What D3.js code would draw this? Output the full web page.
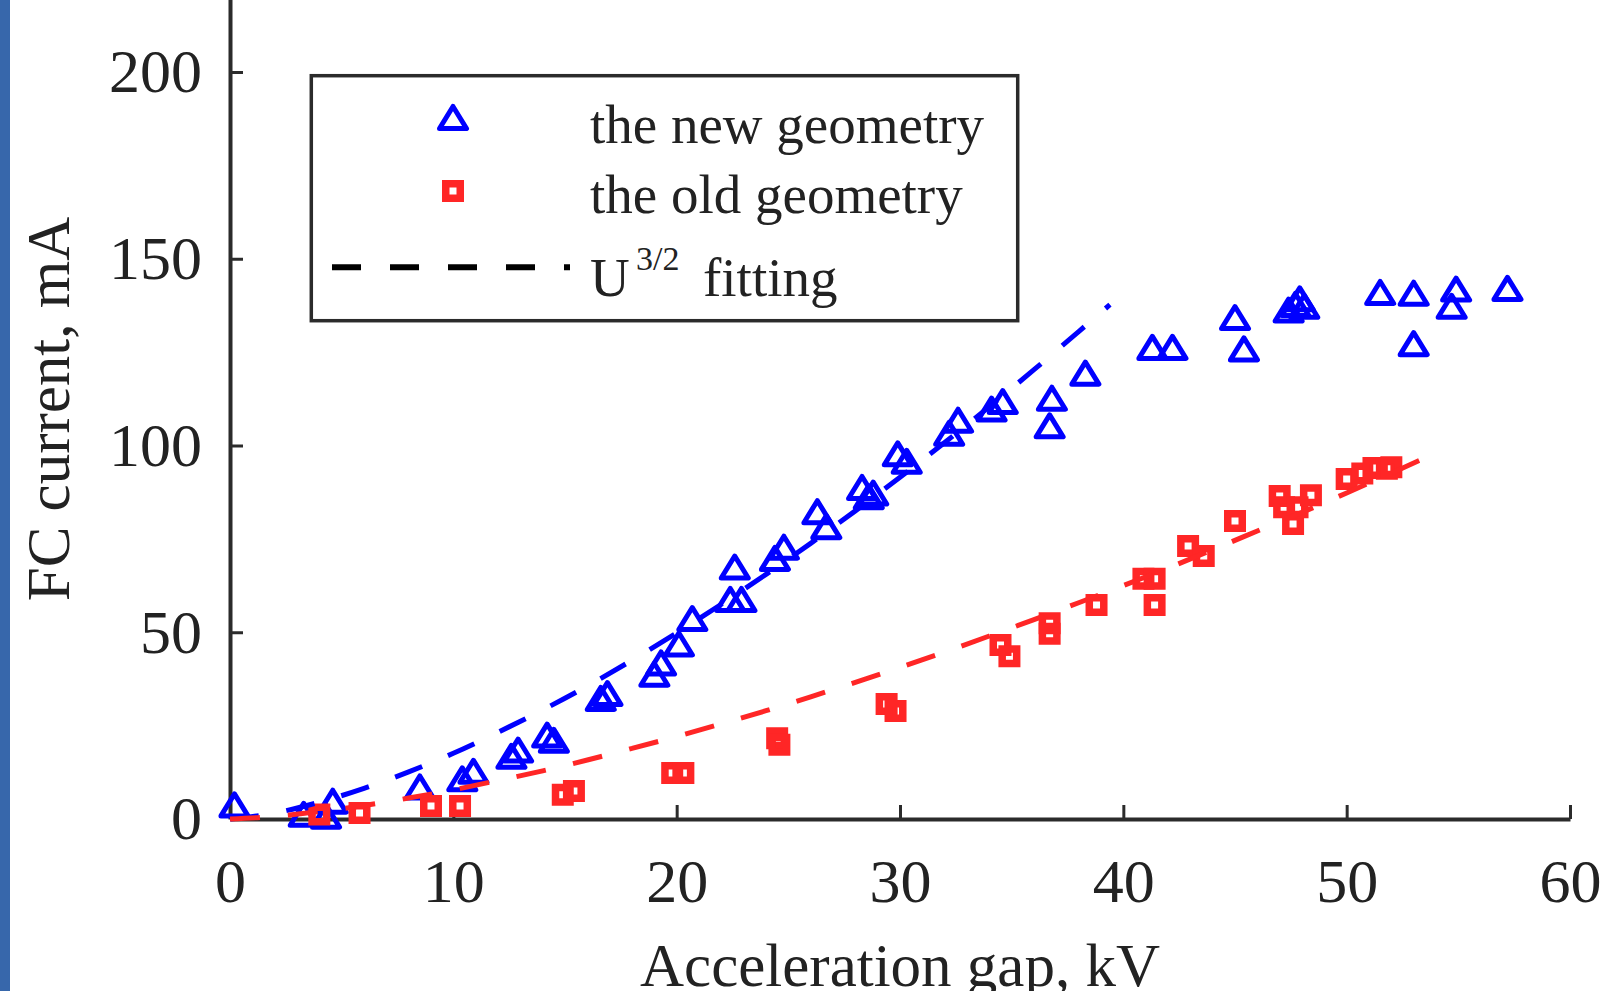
<!DOCTYPE html>
<html>
<head>
<meta charset="utf-8">
<script src="https://cdn.jsdelivr.net/npm/d3@7"></script>
<style>
    body { margin: 0; background: #fff; }
    svg text { font-family: "Liberation Serif", "Times New Roman", serif; fill: #222; }
    .axis path, .axis line { stroke: #2b2b2b; }
</style>
</head>
<body>
<div id="chart"></div>
<script>
// tick values
var xTicks = [0, 10, 20, 30, 40, 50, 60];
var yTicks = [0, 50, 100, 150, 200];

// the new geometry (kV, mA)
var newU = [0.2, 3.3, 4.3, 4.6, 8.5, 10.4, 10.9, 12.6, 12.9, 14.2, 14.5, 16.6, 16.9, 19.0, 19.3, 20.1, 20.7,
    22.4, 22.9, 22.6, 24.4, 24.8, 26.3, 26.7, 28.3, 28.6, 28.8, 29.9, 30.3, 32.2, 32.6, 34.1, 34.6, 36.7,
    36.8, 38.3, 41.3, 42.2, 45.0, 45.4, 47.4, 47.7, 47.9, 48.1, 51.5, 53.0, 53.0, 54.7, 54.9, 57.2];
var newI = [3.5, 1.0, 0.5, 4.5, 8.3, 10.5, 12.5, 16.5, 18.2, 22.2, 20.8, 32.0, 33.3, 38.5, 41.5, 46.6, 53.4,
    58.5, 58.5, 67.2, 69.5, 72.5, 82.0, 78.0, 88.5, 86.0, 87.0, 97.5, 95.5, 103.0, 106.5, 109.5, 111.5, 105.0,
    112.4, 119.1, 126.0, 126.0, 134.0, 125.6, 136.0, 137.5, 139.0, 137.0, 140.7, 140.5, 127.0, 137.0, 141.6, 141.8];

// the old geometry (kV, mA)
var oldU = [4.0, 5.8, 9.0, 10.3, 14.9, 15.4, 19.8, 20.3, 24.5, 24.6, 29.4, 29.8, 34.5, 34.9, 36.7, 36.7, 38.8,
    40.9, 41.4, 41.4, 42.9, 43.6, 45.0, 47.0, 47.2, 47.6, 47.8, 48.4, 50.0, 50.7, 51.2, 51.8, 52.0];
var oldI = [1.2, 1.6, 3.5, 3.5, 6.5, 7.5, 12.3, 12.3, 21.6, 19.9, 30.8, 28.9, 46.6, 43.6, 52.4, 49.6, 57.3,
    64.3, 64.3, 57.3, 73.1, 70.4, 79.8, 86.5, 83.5, 79.0, 83.5, 86.7, 91.0, 92.5, 94.0, 93.8, 94.2];

// U^3/2 fitting curves
var newFitU = [0, 2, 4, 6, 8, 10, 12, 14, 16, 18, 20, 22, 24, 26, 28, 30, 32, 34, 36, 38, 39.4];
var newFitI = [0, 1.6, 4.5, 8.2, 12.6, 17.6, 23.2, 29.2, 35.6, 42.5, 49.8, 57.5, 65.5, 73.8, 82.5, 91.5,
    100.8, 110.4, 120.3, 130.5, 137.7];
var oldFitU = [0, 2, 4, 6, 8, 10, 12, 14, 16, 18, 20, 22, 24, 26, 28, 30, 32, 34, 36, 38, 40, 42, 44, 46,
    48, 50, 52, 53.7];
var oldFitI = [0, 0.7, 2.0, 3.6, 5.6, 7.8, 10.3, 12.9, 15.8, 18.9, 22.1, 25.5, 29.0, 32.7, 36.6, 40.6, 44.7,
    49.0, 53.4, 57.9, 62.5, 67.2, 72.1, 77.1, 82.1, 87.3, 92.6, 97.2];

function zip(a, b) {
    return a.map(function(v, i) { return { u: v, i: b[i] }; });
}

function drawChart() {
    var w = 1603;
    var h = 991;
    var blue = "#0000ff";
    var red = "#ff2626";

    var xScale = d3.scaleLinear().domain([0, 60]).range([230, 1570]);
    var yScale = d3.scaleLinear().domain([0, 220]).range([819, -2.7]);

    var svg = d3.select("#chart").append("svg").attr("width", w).attr("height", h);

    // page border strip on the left
    svg.append("rect").attr("x", 0).attr("y", 0).attr("width", 10).attr("height", h).attr("fill", "#3767ab");

    var xAxis = d3.axisBottom(xScale).tickValues(xTicks).tickSizeInner(-14).tickSizeOuter(0).tickPadding(39);
    var yAxis = d3.axisLeft(yScale).tickValues(yTicks).tickSizeInner(-13).tickSizeOuter(0).tickPadding(28);

    var gx = svg.append("g").attr("class", "axis")
        .attr("transform", "translate(0," + yScale(0) + ")")
        .call(xAxis);
    var gy = svg.append("g").attr("class", "axis")
        .attr("transform", "translate(" + xScale(0) + ",0)")
        .call(yAxis);

    [gx, gy].forEach(function(g) {
        g.select(".domain").attr("stroke-width", 4);
        g.selectAll(".tick line").attr("stroke-width", 3);
        g.selectAll(".tick text").attr("font-size", 62).attr("fill", "#222");
    });

    // markers
    var triPath = "M0,-12L13.5,10L-13.5,10Z";
    var sqPath = "M-7.25,-7.25H7.25V7.25H-7.25Z";

    svg.append("g").selectAll("path")
        .data(zip(newU, newI))
        .enter().append("path")
        .attr("d", triPath)
        .attr("transform", function(d) { return "translate(" + xScale(d.u) + "," + yScale(d.i) + ")"; })
        .attr("fill", "none").attr("stroke", blue).attr("stroke-width", 5).attr("stroke-linejoin", "round");

    svg.append("g").selectAll("path")
        .data(zip(oldU, oldI))
        .enter().append("path")
        .attr("d", sqPath)
        .attr("transform", function(d) { return "translate(" + xScale(d.u) + "," + yScale(d.i) + ")"; })
        .attr("fill", "none").attr("stroke", red).attr("stroke-width", 7.5);

    // fitting lines
    var line = d3.line()
        .x(function(d) { return xScale(d.u); })
        .y(function(d) { return yScale(d.i); })
        .curve(d3.curveMonotoneX);

    svg.append("path").datum(zip(newFitU, newFitI))
        .attr("d", line).attr("fill", "none").attr("stroke", blue)
        .attr("stroke-width", 5).attr("stroke-dasharray", "29 28");

    svg.append("path").datum(zip(oldFitU, oldFitI))
        .attr("d", line).attr("fill", "none").attr("stroke", red)
        .attr("stroke-width", 5).attr("stroke-dasharray", "30 28");

    // axis titles
    svg.append("text")
        .attr("x", 900).attr("y", 986)
        .attr("text-anchor", "middle").attr("font-size", 61)
        .text("Acceleration gap, kV");

    svg.append("text")
        .attr("transform", "translate(69,409) rotate(-90)")
        .attr("text-anchor", "middle").attr("font-size", 61)
        .text("FC current, mA");

    // legend
    var lg = svg.append("g");
    lg.append("rect")
        .attr("x", 311.3).attr("y", 75.7).attr("width", 706.4).attr("height", 245)
        .attr("fill", "#fff").attr("stroke", "#2b2b2b").attr("stroke-width", 3.5);

    lg.append("path").attr("d", triPath).attr("transform", "translate(453,118.5)")
        .attr("fill", "none").attr("stroke", blue).attr("stroke-width", 5).attr("stroke-linejoin", "round");
    lg.append("path").attr("d", sqPath).attr("transform", "translate(453,191)")
        .attr("fill", "none").attr("stroke", red).attr("stroke-width", 7.5);
    lg.append("line")
        .attr("x1", 332).attr("x2", 570).attr("y1", 267.3).attr("y2", 267.3)
        .attr("stroke", "#000").attr("stroke-width", 6).attr("stroke-dasharray", "29 29");

    lg.append("text").attr("x", 590).attr("y", 143).attr("font-size", 55).text("the new geometry");
    lg.append("text").attr("x", 590).attr("y", 213).attr("font-size", 55).text("the old geometry");
    lg.append("text").attr("x", 590).attr("y", 296).attr("font-size", 55).text("U");
    lg.append("text").attr("x", 636).attr("y", 270).attr("font-size", 34).text("3/2");
    lg.append("text").attr("x", 703).attr("y", 296).attr("font-size", 55).text("fitting");
}

window.onload = drawChart;
</script>
</body>
</html>
